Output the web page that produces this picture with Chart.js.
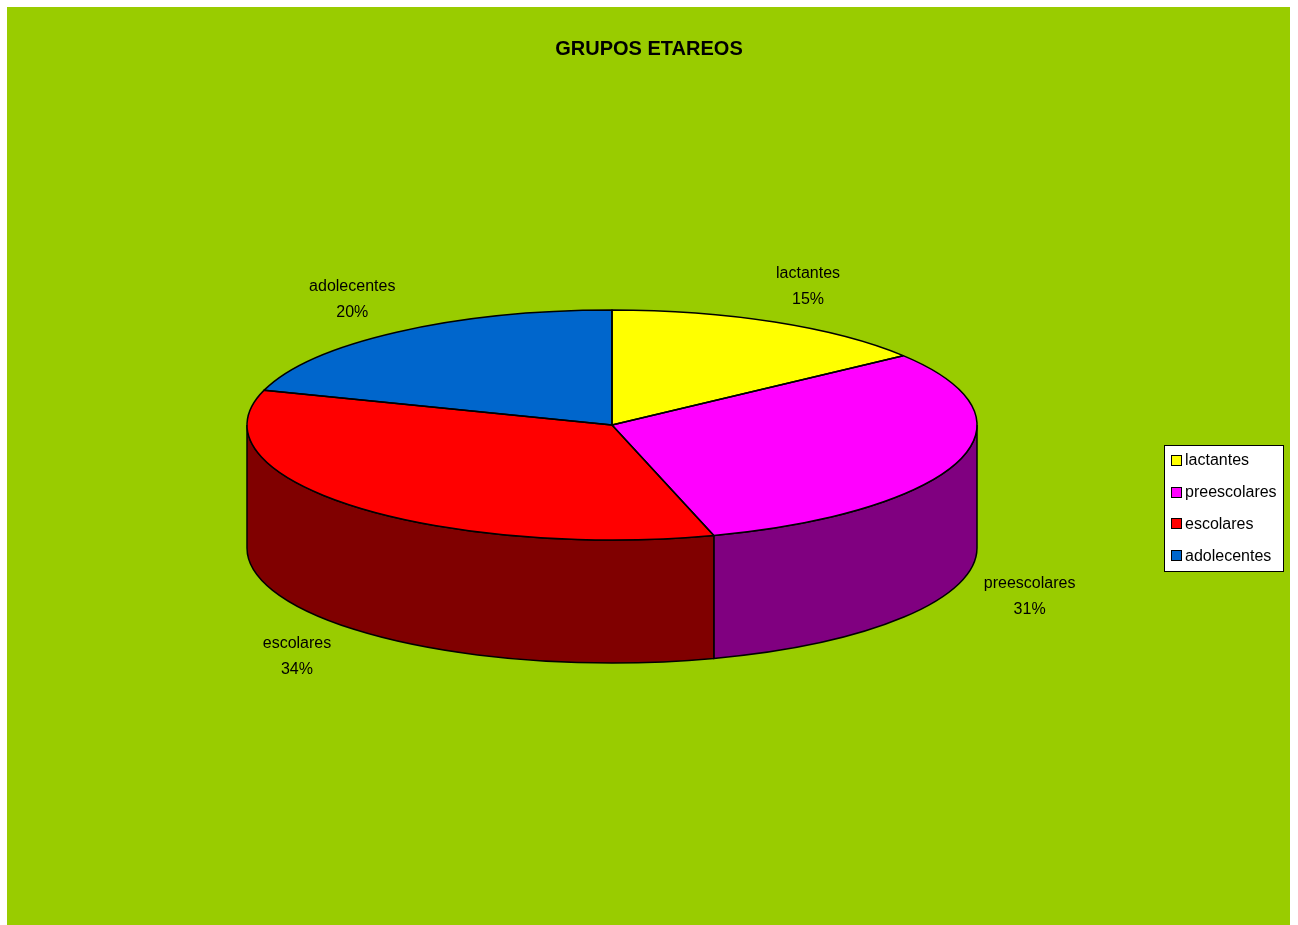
<!DOCTYPE html>
<html>
<head>
<meta charset="utf-8">
<script src="https://cdn.jsdelivr.net/npm/chart.js@4.4.0/dist/chart.umd.min.js"></script>
<style>
  html, body { margin: 0; padding: 0; background: #fff; }
  #wrap { position: relative; width: 1298px; height: 925px; }
</style>
</head>
<body>
<div id="wrap"><canvas id="grafico" width="1298" height="925"></canvas></div>
<script>
// datos del gráfico
const categories = ['lactantes', 'preescolares', 'escolares', 'adolecentes'];
const percentages = [14.7, 30.8, 34.4, 20.1];
const topColors = ['#FFFF00', '#FF00FF', '#FF0000', '#0066CC'];
const sideColors = ['#808000', '#800080', '#800000', '#003366'];
const chartTitle = 'GRUPOS ETAREOS';

// geometría del pastel 3D
const PIE_CX = 612;
const PIE_CY = 425;
const PIE_R = 365;
const TILT = 115 / 365;
const DEPTH = 123;
const FONT = '"Liberation Sans", Arial, sans-serif';

const pieGeom = (chart) => {
    const arcs = chart.getDatasetMeta(0).data;
    const rx = arcs[0].outerRadius;
    return { arcs, rx, ry: rx * TILT };
};

// fondo blanco + área verde
const fondoPlugin = {
    id: 'fondo',
    beforeDraw(chart) {
        const ctx = chart.ctx;
        ctx.save();
        ctx.fillStyle = '#ffffff';
        ctx.fillRect(0, 0, chart.width, chart.height);
        ctx.fillStyle = '#99CC00';
        ctx.fillRect(7, 7, 1283, chart.height - 7);
        ctx.restore();
    }
};

// paredes laterales y aplastado de la cara superior
const pastel3dPlugin = {
    id: 'pastel3d',
    beforeDatasetsDraw(chart) {
        const ctx = chart.ctx;
        const { arcs, rx, ry } = pieGeom(chart);

        ctx.save();
        ctx.lineWidth = 1.5;
        ctx.strokeStyle = '#000';
        arcs.forEach((arc, i) => {
            const a1 = Math.max(arc.startAngle, 0);
            const a2 = Math.min(arc.endAngle, Math.PI);
            if (a2 <= a1) return;
            ctx.beginPath();
            ctx.ellipse(PIE_CX, PIE_CY, rx, ry, 0, a1, a2);
            ctx.lineTo(PIE_CX + rx * Math.cos(a2), PIE_CY + ry * Math.sin(a2) + DEPTH);
            ctx.ellipse(PIE_CX, PIE_CY + DEPTH, rx, ry, 0, a2, a1, true);
            ctx.closePath();
            ctx.fillStyle = sideColors[i];
            ctx.fill();
            ctx.stroke();
        });
        ctx.restore();

        // la cara superior la dibuja Chart.js con esta transformación
        const a0 = arcs[0];
        ctx.save();
        ctx.translate(PIE_CX, PIE_CY);
        ctx.scale(1, TILT);
        ctx.translate(-a0.x, -a0.y);
    },
    afterDatasetsDraw(chart) {
        const ctx = chart.ctx;
        ctx.restore();
        const { arcs, rx, ry } = pieGeom(chart);
        ctx.save();
        ctx.lineWidth = 1.5;
        ctx.strokeStyle = '#000';
        ctx.lineJoin = 'round';
        arcs.forEach((arc) => {
            ctx.beginPath();
            ctx.moveTo(PIE_CX, PIE_CY);
            ctx.lineTo(PIE_CX + rx * Math.cos(arc.startAngle), PIE_CY + ry * Math.sin(arc.startAngle));
            ctx.ellipse(PIE_CX, PIE_CY, rx, ry, 0, arc.startAngle, arc.endAngle);
            ctx.closePath();
            ctx.stroke();
        });
        ctx.restore();
    }
};

// etiquetas de datos fuera del pastel
const etiquetasPlugin = {
    id: 'etiquetas',
    afterDraw(chart) {
        const ctx = chart.ctx;
        const { arcs, rx, ry } = pieGeom(chart);
        const total = percentages.reduce((a, b) => a + b, 0);
        ctx.save();
        ctx.fillStyle = '#000';
        ctx.font = '16px ' + FONT;
        ctx.textAlign = 'center';
        ctx.textBaseline = 'middle';
        arcs.forEach((arc, i) => {
            const mid = (arc.startAngle + arc.endAngle) / 2;
            const x = PIE_CX + (rx + 75) * Math.cos(mid);
            let y = PIE_CY + (ry + 40) * Math.sin(mid);
            if (Math.sin(mid) > 0) y += DEPTH;
            const pct = Math.round(percentages[i] / total * 100) + '%';
            ctx.fillText(categories[i], x, y - 13);
            ctx.fillText(pct, x, y + 13);
        });
        ctx.restore();
    }
};

// leyenda con recuadro
const leyendaPlugin = {
    id: 'leyenda',
    afterDraw(chart) {
        const ctx = chart.ctx;
        const box = { x: 1164.5, y: 445.5, w: 119, h: 126 };
        ctx.save();
        ctx.fillStyle = '#fff';
        ctx.fillRect(box.x, box.y, box.w, box.h);
        ctx.strokeStyle = '#000';
        ctx.lineWidth = 1;
        ctx.strokeRect(box.x, box.y, box.w, box.h);
        ctx.font = '16px ' + FONT;
        ctx.textBaseline = 'middle';
        ctx.textAlign = 'left';
        categories.forEach((cat, i) => {
            const yy = 461 + i * 31.7;
            ctx.fillStyle = topColors[i];
            ctx.fillRect(1171.5, Math.round(yy) - 5.5, 10, 10);
            ctx.strokeRect(1171.5, Math.round(yy) - 5.5, 10, 10);
            ctx.fillStyle = '#000';
            ctx.fillText(cat, 1185, yy);
        });
        ctx.restore();
    }
};

const ctx = document.getElementById('grafico').getContext('2d');
new Chart(ctx, {
    type: 'pie',
    data: {
        labels: categories,
        datasets: [{
            data: percentages,
            backgroundColor: topColors,
            borderWidth: 0,
            clip: false,
        }],
    },
    options: {
        responsive: false,
        animation: false,
        devicePixelRatio: 1,
        radius: PIE_R,
        layout: { padding: 0 },
        plugins: {
            legend: { display: false },
            tooltip: { enabled: false },
            title: {
                display: true,
                text: chartTitle,
                color: '#000',
                font: { family: FONT, size: 20, weight: 'bold' },
                padding: { top: 37, bottom: 10 },
            },
        },
    },
    plugins: [fondoPlugin, pastel3dPlugin, etiquetasPlugin, leyendaPlugin],
});
</script>
</body>
</html>
